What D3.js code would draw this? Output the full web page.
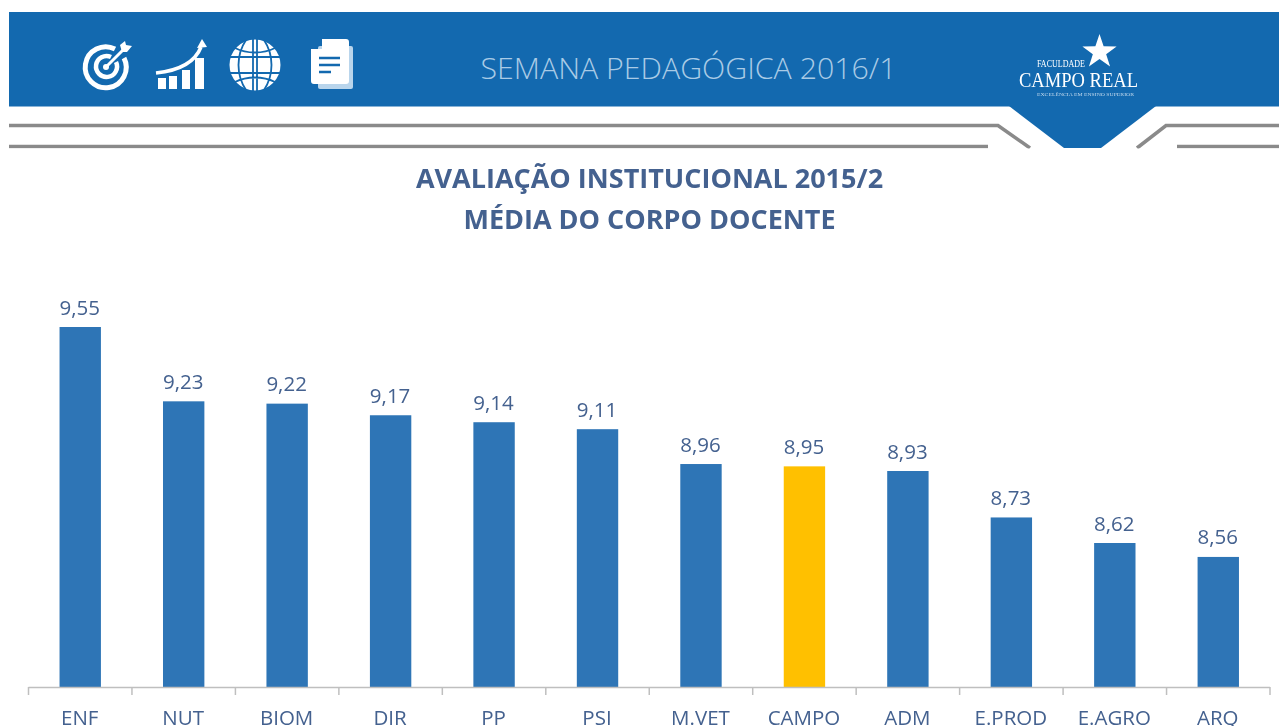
<!DOCTYPE html>
<html>
  <head>
    <meta http-equiv="Content-Type" content="text/html;charset=utf-8"/>
    <style type="text/css">

html, body {
  margin: 0;
  padding: 0;
  background: #fff;
  overflow: hidden;
}

svg {
  display: block;
  font-family: "Open Sans", sans-serif;
  filter: blur(0.4px);
}

.axis path, .axis line {
  fill: none;
  stroke: #bfbfbf;
  stroke-width: 1.5px;
}

    </style>
  </head>
  <body>
    <svg></svg>

    <script src="https://cdn.jsdelivr.net/npm/d3@7"></script>

    <script type="text/javascript">

var categories = ["ENF", "NUT", "BIOM", "DIR", "PP", "PSI", "M.VET", "CAMPO", "ADM", "E.PROD", "E.AGRO", "ARQ"];
var values = [9.55, 9.23, 9.22, 9.17, 9.14, 9.11, 8.96, 8.95, 8.93, 8.73, 8.62, 8.56];
var highlight = ["CAMPO"];
var titleLines = ["AVALIAÇÃO INSTITUCIONAL 2015/2", "MÉDIA DO CORPO DOCENTE"];

var width = 1279, height = 726;
var blue = "#1369af", barBlue = "#2e75b6", gold = "#ffc000", textBlue = "#44618f";

var svg = d3.select("svg")
    .attr("width", width)
    .attr("height", height);

// Banner
var banner = svg.append("g");

banner.append("rect")
    .attr("x", 9).attr("y", 12)
    .attr("width", width - 9).attr("height", 94.5)
    .attr("fill", blue);

banner.append("path")
    .attr("d", "M1009,106 L1064,148 L1101,148 L1156,106 Z")
    .attr("fill", blue);

banner.append("path")
    .attr("d", "M9,125.5 H998 L1030,148 M1137,148 L1166,125.5 H1279 M9,146.5 H988 M1177,146.5 H1279")
    .attr("fill", "none")
    .attr("stroke", "#8a8a8a")
    .attr("stroke-width", 3.5);

banner.append("rect")
    .attr("x", 0).attr("y", 148.5)
    .attr("width", width).attr("height", 4)
    .attr("fill", "#fff");

banner.append("text")
    .attr("x", 688.5).attr("y", 79)
    .attr("text-anchor", "middle")
    .attr("font-size", 30)
    .attr("font-weight", 300)
    .attr("fill", "#a9cbe6")
    .attr("textLength", 416)
    .attr("lengthAdjust", "spacingAndGlyphs")
    .text("SEMANA PEDAGÓGICA 2016/1");

// Icons
var icons = banner.append("g").attr("fill", "#fff").attr("stroke", "#fff");

// target
var target = icons.append("g").attr("transform", "translate(106,67)");
target.append("path")
    .attr("d", "M9,-18 A20.5,20.5 0 1 0 18,-9")
    .attr("fill", "none").attr("stroke-width", 5);
target.append("path")
    .attr("d", "M5,-10 A10.5,10.5 0 1 0 10,-5")
    .attr("fill", "none").attr("stroke-width", 4.5);
target.append("circle").attr("r", 3).attr("stroke", "none");
target.append("path")
    .attr("d", "M0,0 L17,-17")
    .attr("fill", "none").attr("stroke-width", 3);
target.append("path")
    .attr("d", "M14,-22 L19,-26 L20,-22 L26,-21 L21,-15 L16,-15 Z")
    .attr("stroke", "none");

// rising chart
var growth = icons.append("g");
growth.selectAll("rect")
    .data([[158, 78, 8, 11], [169, 76, 8, 13], [182, 70, 8, 19], [195, 58, 9, 31]])
  .enter().append("rect")
    .attr("x", d => d[0]).attr("y", d => d[1])
    .attr("width", d => d[2]).attr("height", d => d[3])
    .attr("stroke", "none");
growth.append("path")
    .attr("d", "M156,73 C175,71 194,65 201,47")
    .attr("fill", "none").attr("stroke-width", 3.5);
growth.append("path")
    .attr("d", "M202,39 L207,47 L197,48 Z")
    .attr("stroke", "none");

// globe
var globe = icons.append("g").attr("transform", "translate(255,65)");
globe.append("circle").attr("r", 25.5).attr("stroke", "none");
globe.append("path")
    .attr("d", "M-25,-8 H25 M-25,8 H25 M-2,-26 V26 M2,-26 V26 M-9,-25 C-19,-10 -19,10 -9,25 M9,-25 C19,-10 19,10 9,25 M-20,-17 C-8,-11 8,-11 20,-17 M-20,17 C-8,11 8,11 20,17")
    .attr("fill", "none")
    .attr("stroke", blue)
    .attr("stroke-width", 1.8);

// documents
var docs = icons.append("g");
docs.append("rect")
    .attr("x", 318).attr("y", 46).attr("width", 35).attr("height", 43).attr("rx", 2)
    .attr("fill", "#b9d5ec").attr("stroke", "none");
docs.append("path")
    .attr("d", "M322,39 H346 Q349,39 349,42 V81 Q349,84 346,84 H314 Q311,84 311,81 V49 H322 Z")
    .attr("stroke", "none");
docs.append("path")
    .attr("d", "M319,58 H340 M319,65 H340 M319,72 H331")
    .attr("fill", "none").attr("stroke", blue).attr("stroke-width", 2.6);

// Logo
var logo = banner.append("g").attr("fill", "#fff").attr("font-family", "Liberation Serif");

var star = d3.range(10).map(function (i) {
  var r = i % 2 ? 7 : 18;
  var a = i * Math.PI / 5;
  return (1099.5 + r * Math.sin(a)) + "," + (52 - r * Math.cos(a));
}).join(" ");
logo.append("polygon").attr("points", star);

logo.append("text")
    .attr("x", 1037).attr("y", 67)
    .attr("font-size", 11)
    .attr("textLength", 48)
    .attr("lengthAdjust", "spacingAndGlyphs")
    .text("FACULDADE");
logo.append("text")
    .attr("x", 1019).attr("y", 87)
    .attr("font-size", 22)
    .attr("textLength", 119)
    .attr("lengthAdjust", "spacingAndGlyphs")
    .text("CAMPO REAL");
logo.append("text")
    .attr("x", 1037).attr("y", 96)
    .attr("font-size", 5)
    .attr("fill", "#c5dbee")
    .attr("textLength", 97)
    .attr("lengthAdjust", "spacingAndGlyphs")
    .text("EXCELÊNCIA EM ENSINO SUPERIOR");

// Title
svg.append("g").selectAll("text")
    .data(titleLines)
  .enter().append("text")
    .attr("x", 649.5)
    .attr("y", (d, i) => 187.5 + i * 41)
    .attr("text-anchor", "middle")
    .attr("font-size", 27)
    .attr("font-weight", 700)
    .attr("fill", textBlue)
    .text(d => d);

// Bars
var x = d3.scaleBand()
    .domain(categories)
    .range([28.5, 1270])
    .paddingInner(0.6)
    .paddingOuter(0.3);

var y = d3.scaleLinear()
    .domain([8, 9.55])
    .range([687, 327]);

var data = categories.map((c, i) => ({cat: c, val: values[i]}));

svg.append("g").selectAll("rect")
    .data(data)
  .enter().append("rect")
    .attr("x", d => x(d.cat))
    .attr("y", d => y(d.val))
    .attr("width", x.bandwidth())
    .attr("height", d => y(8) - y(d.val))
    .attr("fill", d => highlight.includes(d.cat) ? gold : barBlue);

svg.append("g").selectAll("text")
    .data(data)
  .enter().append("text")
    .attr("x", d => x(d.cat) + x.bandwidth() / 2 - 0.5)
    .attr("y", d => y(d.val) - 12.5)
    .attr("text-anchor", "middle")
    .attr("font-size", 20.5)
    .attr("fill", textBlue)
    .text(d => d.val.toFixed(2).replace(".", ","));

// Axis: ticks sit on the band edges, not the centres
var step = x.step();
var edges = d3.range(categories.length + 1).map(i => 28.5 + i * step);

var axis = svg.append("g").attr("class", "axis");

axis.append("path").attr("d", "M28.5,687.5 H1270");

axis.selectAll("line")
    .data(edges)
  .enter().append("line")
    .attr("x1", d => d).attr("x2", d => d)
    .attr("y1", 687).attr("y2", 695);

svg.append("g").selectAll("text")
    .data(categories)
  .enter().append("text")
    .attr("x", d => x(d) + x.bandwidth() / 2 - 0.5)
    .attr("y", 724.5)
    .attr("text-anchor", "middle")
    .attr("font-size", 20.5)
    .attr("fill", textBlue)
    .text(d => d);

    </script>
  </body>
</html>
